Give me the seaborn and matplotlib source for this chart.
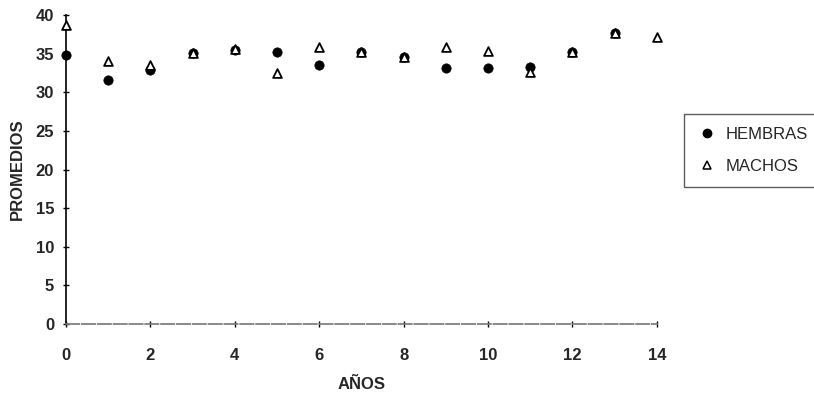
import numpy as np
import pandas as pd
import matplotlib
matplotlib.use("Agg")
import matplotlib.pyplot as plt
import seaborn as sns
from matplotlib.lines import Line2D

years_h = [0, 1, 2, 3, 4, 5, 6, 7, 8, 9, 10, 11, 12, 13]
hembras = [34.8, 31.6, 32.9, 35.1, 35.5, 35.2, 33.5, 35.2, 34.6, 33.2, 33.2, 33.3, 35.2, 37.7]
years_m = [0, 1, 2, 3, 4, 5, 6, 7, 8, 9, 10, 11, 12, 13, 14]
machos = [38.7, 34.0, 33.5, 35.1, 35.6, 32.5, 35.9, 35.2, 34.6, 35.9, 35.3, 32.6, 35.2, 37.7, 37.1]
x_ticks = [0, 2, 4, 6, 8, 10, 12, 14]
y_ticks = [0, 5, 10, 15, 20, 25, 30, 35, 40]

sns.set_style("white")
plt.rcParams['font.family'] = ['Liberation Sans Narrow', 'Liberation Sans', 'DejaVu Sans']

df_h = pd.DataFrame({"AÑOS": years_h, "PROMEDIOS": hembras})
df_m = pd.DataFrame({"AÑOS": years_m, "PROMEDIOS": machos})

fig = plt.figure(figsize=(8.14, 3.97), dpi=100)
ax = fig.add_axes([0.081, 0.184, 0.726, 0.778])

sns.scatterplot(data=df_h, x="AÑOS", y="PROMEDIOS", ax=ax, marker="o", s=45,
                color="black", edgecolor="black", linewidth=0.5, zorder=3)
sns.scatterplot(data=df_m, x="AÑOS", y="PROMEDIOS", ax=ax, marker="^", s=40,
                facecolor="white", edgecolor="black", linewidth=1.3, zorder=4)

ax.set_xlim(0, 14)
ax.set_ylim(0, 40)
ax.set_xticks(x_ticks)
ax.set_yticks(y_ticks)
ax.set_xticklabels([str(v) for v in x_ticks], fontsize=12, fontweight="bold")
ax.set_yticklabels([str(v) for v in y_ticks], fontsize=12, fontweight="bold")
ax.tick_params(axis="both", bottom=True, left=True, direction="inout", length=5,
               width=1, color="black")
ax.tick_params(axis="y", pad=6)
ax.tick_params(axis="x", pad=15)

for s in ["top", "right"]:
    ax.spines[s].set_visible(False)
ax.spines["left"].set_color("black")
ax.spines["left"].set_linewidth(1.2)
ax.spines["bottom"].set_color("#777777")
ax.spines["bottom"].set_linewidth(1.2)
ax.spines["bottom"].set_linestyle((0, (8, 1.5)))
for c in ax.collections:
    c.set_clip_on(False)

ax.set_xlabel("AÑOS", fontsize=12, fontweight="bold", labelpad=10)
ax.set_ylabel("PROMEDIOS", fontsize=12, fontweight="bold", labelpad=8)

handles = [
    Line2D([], [], marker="o", linestyle="none", color="black", markersize=6),
    Line2D([], [], marker="^", linestyle="none", markerfacecolor="white",
           markeredgecolor="black", markersize=6, markeredgewidth=1.1),
]
leg = fig.legend(handles, ["HEMBRAS", "MACHOS"], loc="upper left",
                 bbox_to_anchor=(0.83, 0.735), frameon=True, fancybox=False,
                 fontsize=12, handletextpad=0.5, labelspacing=1.0,
                 borderpad=0.8, handlelength=1.2)
leg.get_frame().set_edgecolor("#333333")
leg.get_frame().set_linewidth(1.0)

fig.savefig("out.png", dpi=100)
